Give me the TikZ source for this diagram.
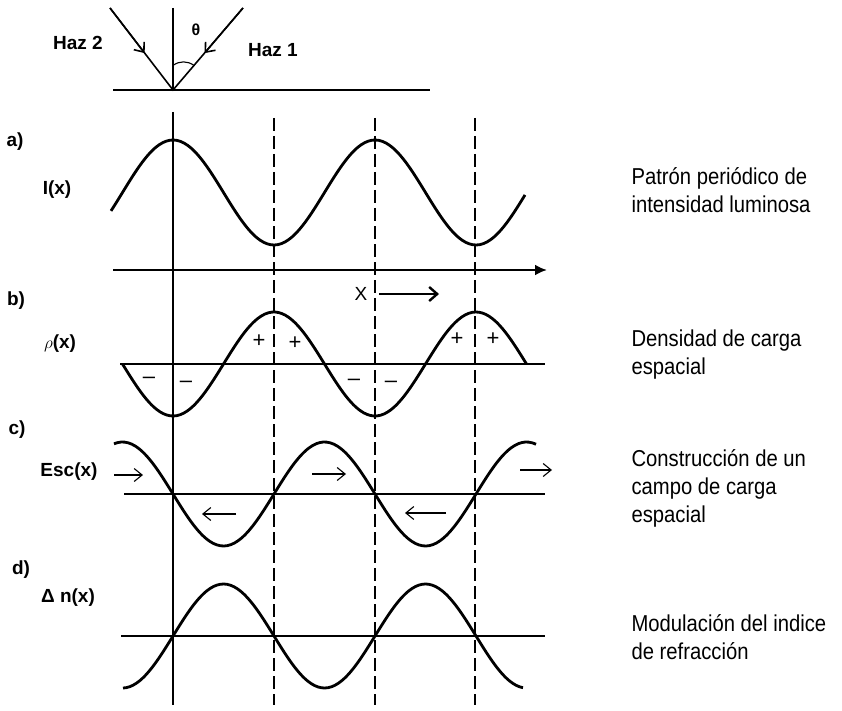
\documentclass[tikz,border=0pt]{standalone}
\usepackage{fontspec}
\setmainfont{Liberation Sans}
\newfontfamily\estrecha[FakeStretch=0.88]{Liberation Sans}
\usetikzlibrary{arrows.meta,calc}

\tikzset{
  curva/.style={line width=2.8pt},
  eje/.style={line width=2.8pt},
  guia/.style={line width=1.3pt,dash pattern=on 13pt off 5pt},
  etiq/.style={font=\fontsize{19}{19}\selectfont\bfseries},
  texto/.style={font=\estrecha\fontsize{23}{28}\selectfont,align=left,anchor=west},
  flecha/.style={line width=1.1pt,-{Straight Barb[length=8pt,width=13pt]}},
  signo/.style={font=\fontsize{22}{22}\selectfont},
}

\begin{document}
\begin{tikzpicture}[x=1pt,y=-1pt]
  \useasboundingbox (0,0) rectangle (842,711);
  % haces incidentes
  \coordinate (O) at (173,90);
  \coordinate (N) at (173,8);
  \coordinate (h2) at (110,8);
  \coordinate (h1) at (243,8);
  \draw[line width=1.6pt] (113,90) -- (430,90);
  \draw[line width=1.6pt] (N) -- (O);
  \draw[line width=1.6pt] (h2) -- (O) -- (h1);
  \draw[flecha,line width=1.6pt] (h2) -- ($(h2)!0.55!(O)$);
  \draw[flecha,line width=1.6pt] (h1) -- ($(h1)!0.55!(O)$);
  \draw[line width=1.1pt] ($(O)!0.3!(N)$) to[bend left=35] ($(O)!0.3!(h1)$);
  \node[etiq] (haz2) at (78,43) {Haz 2};
  \node[etiq] (haz1) at (273,50) {Haz 1};
  \node[font=\fontsize{16}{16}\selectfont\bfseries] (theta) at (196,30) {θ};
  %
  \draw[line width=1.4pt] (173,112) -- (173,705);
  \foreach \x in {274,375,475}
           {\draw[guia] (\x,118) -- (\x,705);}
  % a) intensidad
  \node[etiq] (la) at (15,142) {a)};
  \node[etiq] (Ix) at (57,190) {I(x)};
  \draw[curva] plot[domain=111:525,samples=120,smooth]
        (\x,{192.5-52.5*cos((\x-173)/202*360)});
  \draw[eje,-{Latex[length=12pt,width=11pt]}] (113,270) -- (547,270);
  % b) densidad de carga
  \node[etiq] (lb) at (16,301) {b)};
  \node[etiq] (rhox) at (60,344) {$\rho$(x)};
  \draw[eje] (120,364) -- (545,364);
  \draw[curva] plot[domain=122.5:526.5,samples=120,smooth]
        (\x,{364+52*cos((\x-173)/202*360)});
  \foreach \x/\y [count=\i] in {259/341,295/343,457/339,493/339}
           {\node[signo] (mas\i) at (\x,\y) {+};}
  \foreach \x/\y [count=\i] in {149/380,186/384,354/382,391/384}
           {\node[signo] (menos\i) at (\x,\y) {–};}
  \node[font=\fontsize{19}{19}\selectfont] (X) at (361,294) {X};
  \coordinate (xfin) at (439,294);
  \draw[line width=2.4pt,-{Straight Barb[length=8pt,width=14pt]}]
        ([xshift=18pt]X.center) -- (xfin);
  % c) campo de carga espacial
  \node[etiq] (lc) at (17,430) {c)};
  \node[etiq] (Esc) at (69,472) {Esc(x)};
  \draw[eje] (124,494) -- (545,494);
  \draw[curva] plot[domain=114:536,samples=120,smooth]
        (\x,{494+52*sin((\x-173)/202*360)});
  \foreach \xa/\xb/\y in {114/143/475,312/346/474,520/552/470,236/202/514,446/405/513}
           {\draw[flecha] (\xa,\y) -- (\xb,\y);}
  % d) indice de refraccion
  \node[etiq] (ld) at (21,570) {d)};
  \node[etiq] (Dn) at (68,598) {Δ n(x)};
  \draw[eje] (121,636) -- (545,636);
  \draw[curva] plot[domain=123:523,samples=120,smooth]
        (\x,{636-52*sin((\x-173)/202*360)});
  % textos
  \node[texto] (ta) at (628,190) {Patrón periódico de\\intensidad luminosa};
  \node[texto] (tb) at (628,355) {Densidad de carga\\espacial};
  \node[texto] (tc) at (628,488) {Construcción de un\\campo de carga\\espacial};
  \node[texto] (td) at (628,637) {Modulación del indice\\de refracción};
\end{tikzpicture}
\end{document}
